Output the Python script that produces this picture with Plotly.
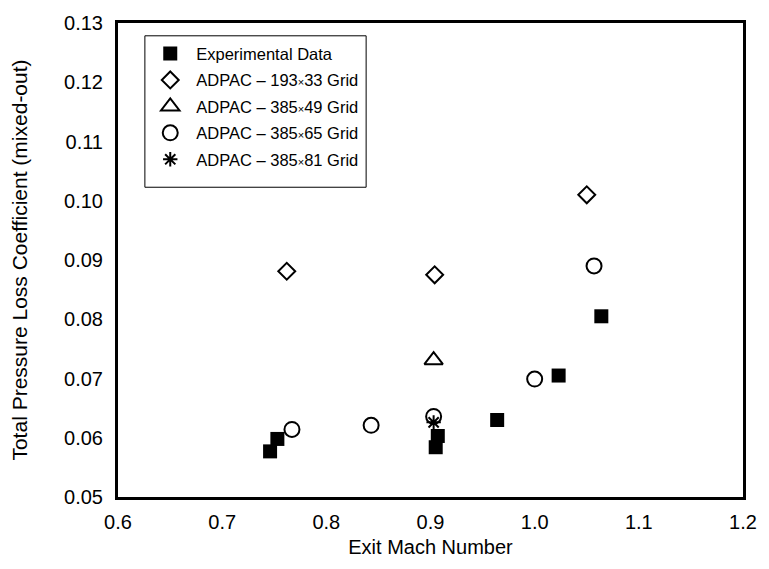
import plotly.graph_objects as go

# Data
exp_mach = [0.746, 0.753, 0.905, 0.907, 0.964, 1.023, 1.064]
exp_loss = [0.0577, 0.0598, 0.0584, 0.0603, 0.0630, 0.0705, 0.0805]

g193_mach = [0.762, 0.904, 1.050]
g193_loss = [0.0881, 0.0875, 0.1010]

g385x49_mach = [0.903]
g385x49_loss = [0.0731]

g385x65_mach = [0.767, 0.843, 0.903, 1.000, 1.057]
g385x65_loss = [0.0614, 0.0621, 0.0636, 0.0699, 0.0890]

g385x81_mach = [0.903]
g385x81_loss = [0.0626]

x_ticks = [0.6, 0.7, 0.8, 0.9, 1.0, 1.1, 1.2]
y_ticks = [0.05, 0.06, 0.07, 0.08, 0.09, 0.10, 0.11, 0.12, 0.13]

FONT = "Liberation Sans, Arial, Helvetica, sans-serif"
X = "<span style='font-size:11px'>×</span>"

fig = go.Figure()
fig.add_trace(go.Scatter(x=exp_mach, y=exp_loss, mode="markers", name="Experimental Data", legendgroup="a",
                         marker=dict(symbol="square", size=14, color="black", line=dict(width=0))))
fig.add_trace(go.Scatter(x=g193_mach, y=g193_loss, mode="markers", name=f"ADPAC – 193{X}33 Grid", legendgroup="b",
                         marker=dict(symbol="diamond-open", size=13, color="black", line=dict(width=2, color="black"))))
fig.add_trace(go.Scatter(x=g385x49_mach, y=g385x49_loss, mode="markers", name=f"ADPAC – 385{X}49 Grid", legendgroup="c",
                         marker=dict(symbol="triangle-up-open", size=16, color="black", line=dict(width=2, color="black"))))
fig.add_trace(go.Scatter(x=g385x65_mach, y=g385x65_loss, mode="markers", name=f"ADPAC – 385{X}65 Grid", legendgroup="d",
                         marker=dict(symbol="circle-open", size=15, color="black", line=dict(width=2, color="black"))))
fig.add_trace(go.Scatter(x=g385x81_mach, y=g385x81_loss, mode="markers", name=f"ADPAC – 385{X}81 Grid", legendgroup="e",
                         marker=dict(symbol="asterisk-open", size=12, color="black", line=dict(width=2, color="black"))))

# legend frame (drawn as a shape so it can have extra padding like the reference)
fig.add_shape(type="rect", xref="paper", yref="paper", x0=0.043, x1=0.397, y0=0.6535, y1=0.973,
              line=dict(color="black", width=1), fillcolor="rgba(0,0,0,0)", layer="below")

fig.update_layout(
    width=769, height=569,
    margin=dict(l=118, r=22, t=15, b=72),
    paper_bgcolor="white", plot_bgcolor="white",
    font=dict(family=FONT, size=20, color="black"),
    showlegend=True,
    legend=dict(x=0.042, y=0.972, xanchor="left", yanchor="top",
                borderwidth=0, bgcolor="rgba(0,0,0,0)",
                font=dict(family=FONT, size=16.5, color="black"),
                itemwidth=42, tracegroupgap=2, traceorder="grouped"),
    xaxis=dict(range=[0.6, 1.2], tickvals=x_ticks, ticktext=[f"{v:.1f}" for v in x_ticks],
               showgrid=False, zeroline=False, showline=True, linewidth=3, linecolor="black",
               mirror=True, ticks="", ticklabelstandoff=5,
               title=dict(text="Exit Mach Number", font=dict(family=FONT, size=20), standoff=8)),
    yaxis=dict(range=[0.05, 0.13], tickvals=y_ticks, ticktext=[f"{v:.2f}" for v in y_ticks],
               showgrid=False, zeroline=False, showline=True, linewidth=3, linecolor="black",
               mirror=True, ticks="", ticklabelstandoff=8,
               title=dict(text="Total Pressure Loss Coefficient (mixed-out)", font=dict(family=FONT, size=21), standoff=31)),
)

fig.write_html("out.html")
